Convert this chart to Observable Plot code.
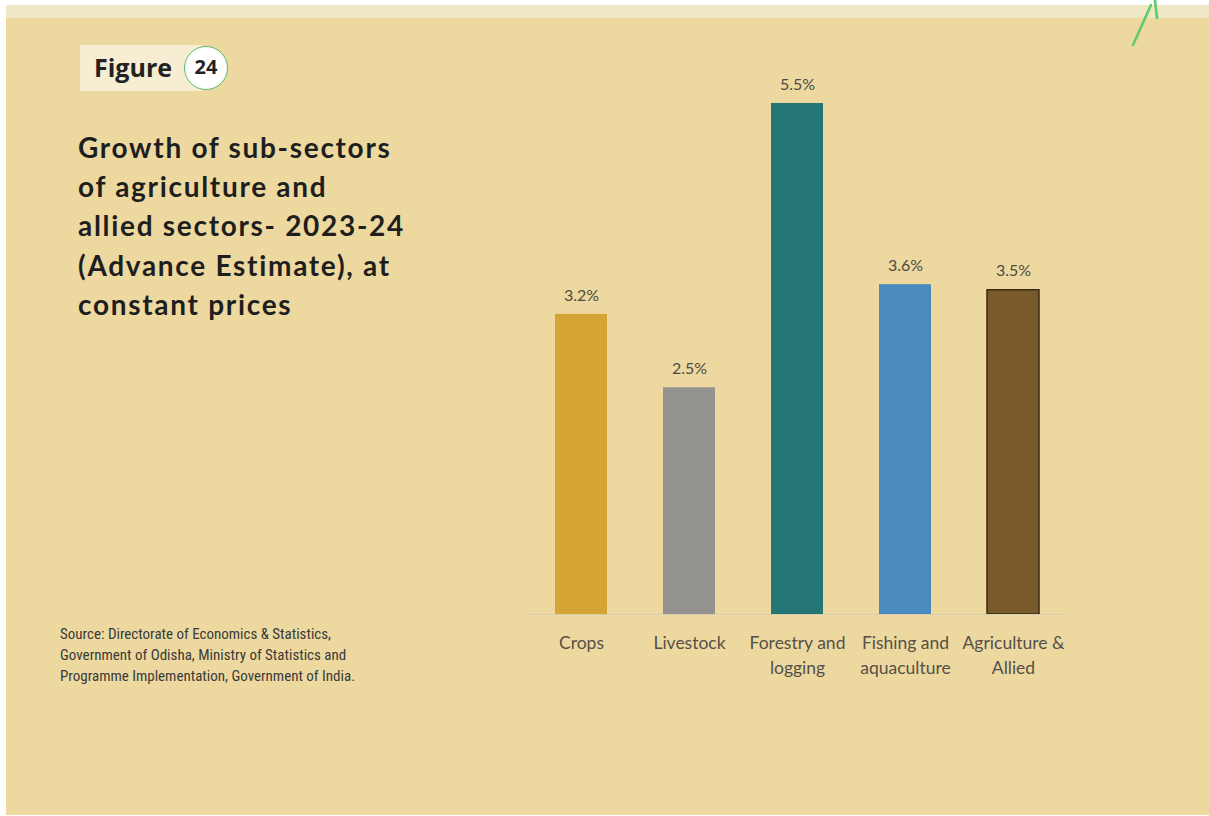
<!DOCTYPE html>
<html>
<head>
<meta charset="utf-8">
<script src="https://cdn.jsdelivr.net/npm/d3@7"></script>
<script src="https://cdn.jsdelivr.net/npm/@observablehq/plot@0.6"></script>
<style>
  html, body { margin: 0; padding: 0; background: #ffffff; }
  #page { position: relative; width: 1209px; height: 816px; overflow: hidden; background: #ffffff; }
  #bg { position: absolute; left: 6px; top: 5px; right: 0; bottom: 1px; background: #EDD99F; }
  #strip { position: absolute; left: 6px; top: 5px; right: 0; height: 13px; background: #EEE7C3; }
  #badge { position: absolute; left: 80px; top: 45px; width: 122px; height: 46px; background: #F6EDD2; }
  #badgeText { position: absolute; left: 94px; top: 50px; font: 700 25px "Open Sans", sans-serif; color: #222; }
  #circle { position: absolute; left: 184px; top: 46px; width: 44px; height: 44px; border-radius: 50%; background: #fff; border: 1.5px solid #5DB870; box-sizing: border-box; text-align: center; font: 700 20px "Open Sans", sans-serif; line-height: 40px; color: #222; }
  #title { position: absolute; left: 78px; top: 128px; font: 700 28px Lato, sans-serif; line-height: 39.2px; color: #1e1e1e; letter-spacing: 1.7px; }
  #source { position: absolute; left: 60px; top: 624px; font: 400 15px "Liberation Sans Narrow", "Roboto Condensed", sans-serif; line-height: 21px; color: #3a3a3a; }
  #chart { position: absolute; left: 0; top: 0; }
  #deco { position: absolute; left: 0; top: 0; }
</style>
</head>
<body>
<div id="page">
  <div id="bg"></div>
  <div id="strip"></div>
  <div id="badge"></div>
  <div id="badgeText">Figure</div>
  <div id="circle">24</div>
  <div id="title">Growth of sub-sectors<br>of agriculture and<br>allied sectors- 2023-24<br>(Advance Estimate), at<br>constant prices</div>
  <div id="source">Source: Directorate of Economics &amp; Statistics,<br>Government of Odisha, Ministry of Statistics and<br>Programme Implementation, Government of India.</div>
  <div id="chart"></div>
  <svg id="deco" width="1209" height="60">
    <line x1="1133" y1="45" x2="1151" y2="5" stroke="#5FCB6A" stroke-width="2.6" stroke-linecap="round"/>
    <line x1="1157" y1="18" x2="1155" y2="1" stroke="#5FCB6A" stroke-width="2.6" stroke-linecap="round"/>
  </svg>
</div>
<script>
const categories = ["Crops", "Livestock", "Forestry and\nlogging", "Fishing and\naquaculture", "Agriculture &\nAllied"];
const values = [3.23, 2.44, 5.5, 3.55, 3.49];
const valueLabels = ["3.2%", "2.5%", "5.5%", "3.6%", "3.5%"];
const colors = ["#D4A535", "#959390", "#247674", "#4A8BBF", "#7A5A2B"];
const strokes = ["none", "none", "none", "none", "#3A2A12"];

const data = categories.map((c, i) => ({cat: c, value: values[i], label: valueLabels[i], color: colors[i], stroke: strokes[i]}));

const chart = Plot.plot({
  width: 1209,
  height: 700,
  marginLeft: 526,
  marginRight: 141,
  marginTop: 103,
  marginBottom: 86,
  style: {background: "transparent", fontFamily: "Lato, sans-serif"},
  x: {domain: categories, paddingInner: 0.52, paddingOuter: 0.26, label: null},
  y: {domain: [0, 5.5], axis: null},
  marks: [
    Plot.barY(data, {x: "cat", y: "value", fill: "color", stroke: "stroke", strokeWidth: 1.5}),
    Plot.ruleY([0], {stroke: "#D8CFAE", strokeWidth: 1.2}),
    Plot.text(data, {x: "cat", y: "value", text: "label", dy: -19, fontSize: 16, fill: "#4e4a45"}),
    Plot.axisX({tickSize: 0, tickPadding: 16, fontSize: 17.5, fill: "#55504a", label: null, lineHeight: 1.45})
  ]
});
document.getElementById("chart").appendChild(chart);
</script>
</body>
</html>
